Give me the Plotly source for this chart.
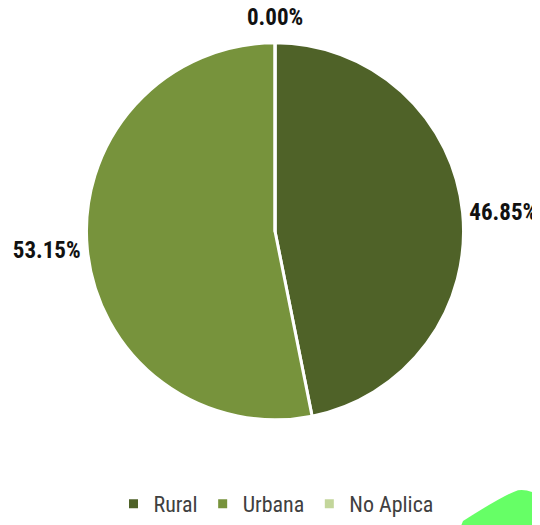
import plotly.graph_objects as go

categories = ["Rural", "Urbana", "No Aplica"]
values = [46.85, 53.15, 0.00]
colors = ["#4F6228", "#77933C", "#C3D69B"]

OFF = 8  # page body margin offset
W, H = 540 - OFF, 525 - OFF


def px(x):
    return (x - OFF) / W


def py(y):
    return 1 - (y - OFF) / H


label_font = dict(family="Roboto Condensed, sans-serif", size=23, color="#111111")

fig = go.Figure()
fig.add_trace(go.Pie(
    labels=categories,
    values=values,
    sort=False,
    direction="clockwise",
    rotation=0,
    marker=dict(colors=colors, line=dict(color="white", width=3)),
    textinfo="none",
    texttemplate=["<b>%{value:.2f}%</b>" if v > 0 else "" for v in values],
    textposition="outside",
    outsidetextfont=label_font,
    automargin=False,
    domain=dict(x=[px(85), px(465)], y=[py(423), py(43)]),
    hoverinfo="label+percent",
    showlegend=True,
))

# zero-value slice label, centred above the top of the pie
for cat, v in zip(categories, values):
    if v == 0:
        fig.add_annotation(x=px(275), y=py(18), xref="paper", yref="paper",
                           xanchor="center", yanchor="middle", showarrow=False,
                           text=f"<b>{v:.2f}%</b>", font=label_font)

# decorative green shape in bottom-right corner
path = (f"M {px(455)} {py(545)} L {px(463)} {py(525)} "
        f"Q {px(505)} {py(498)} {px(518)} {py(494)} "
        f"Q {px(532)} {py(492)} {px(545)} {py(505)} "
        f"L {px(560)} {py(545)} Z")
fig.add_shape(type="path", path=path, xref="paper", yref="paper",
              line=dict(width=0), fillcolor="#66FF66", layer="above")

fig.update_layout(
    width=W, height=H,
    margin=dict(l=0, r=0, t=0, b=0),
    paper_bgcolor="white", plot_bgcolor="white",
    legend=dict(orientation="h", x=px(276), xanchor="center", y=py(508), yanchor="middle",
                font=dict(family="Roboto Condensed, sans-serif", size=22, color="#404040"),
                itemwidth=30, traceorder="normal"),
)
fig.write_html("out.html")
